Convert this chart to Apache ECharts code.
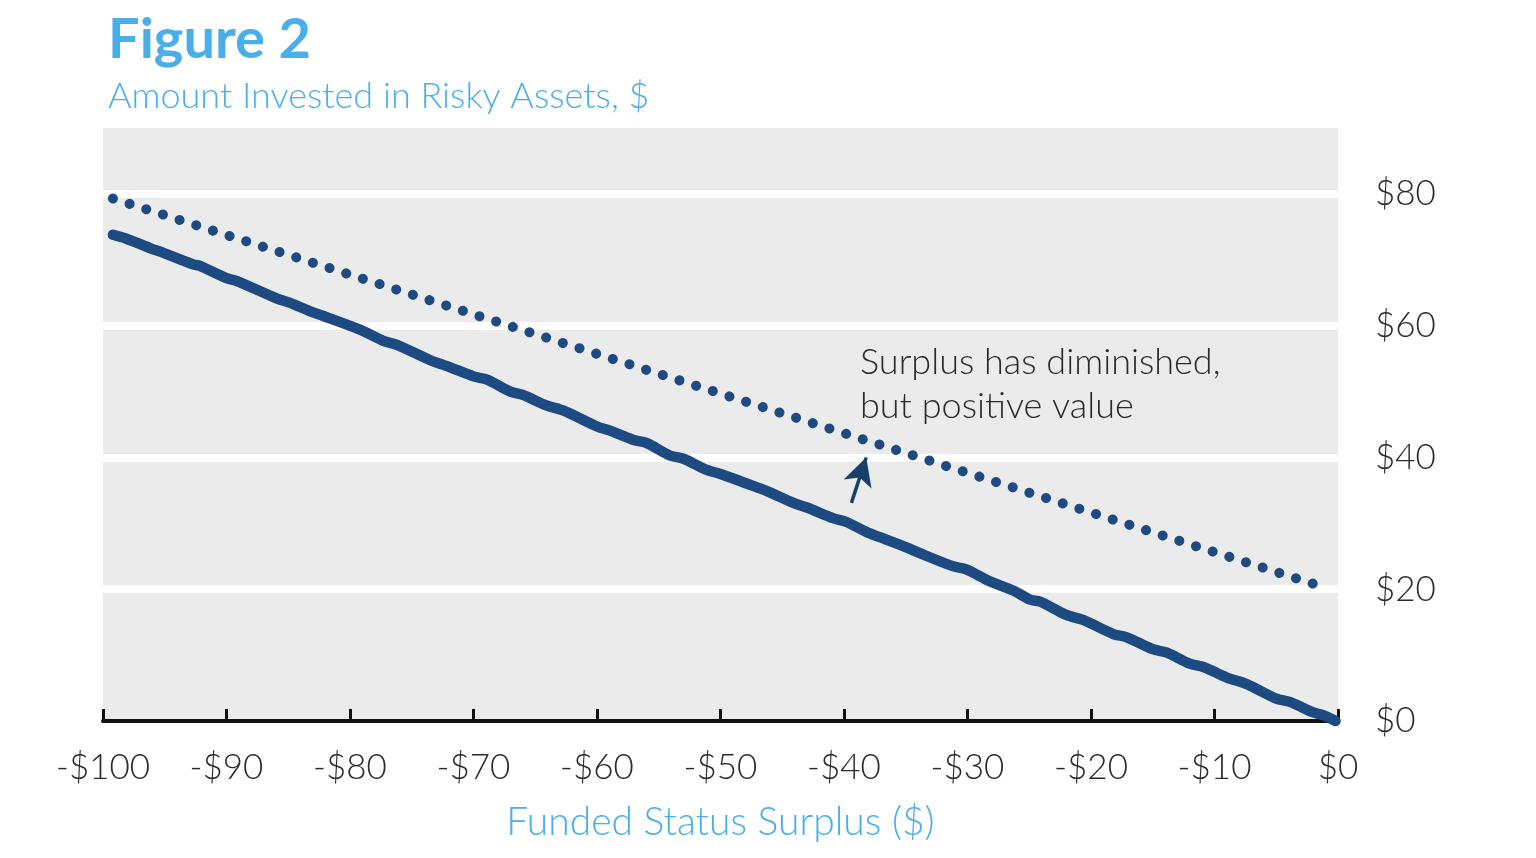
<!DOCTYPE html>
<html><head><meta charset="utf-8">
<script src="https://cdn.jsdelivr.net/npm/echarts@6/dist/echarts.min.js"></script>
<style>html,body{margin:0;padding:0;background:#fff}#c{width:1536px;height:858px}</style>
</head><body><div id="c"></div>
<script>
// Data
const xTicks = [-100, -90, -80, -70, -60, -50, -40, -30, -20, -10, 0];
const yTicks = [0, 20, 40, 60, 80];
const solidX = [-99.2,-98.1,-96.1,-95.3,-92.7,-92.2,-90.0,-89.2,-85.9,-84.9,-83.0,-82.2,-79.2,-77.3,-76.2,-73.3,-72.2,-70.0,-68.9,-67.0,-66.0,-64.1,-62.7,-60.0,-59.0,-57.1,-56.0,-54.1,-53.0,-51.1,-50.0,-46.8,-46.0,-44.1,-43.0,-40.9,-39.8,-38.2,-37.1,-34.9,-33.9,-31.2,-30.1,-28.2,-26.3,-24.9,-24.1,-22.0,-20.6,-18.2,-17.1,-15.0,-13.9,-12.0,-10.9,-9.0,-7.4,-5.0,-3.9,-2.0,-1.2,-0.2];
const solidY = [73.8,73.2,71.7,71.2,69.3,69.1,67.2,66.8,64.1,63.5,62.0,61.5,59.4,57.7,57.1,54.6,53.9,52.3,51.8,50.0,49.5,47.9,47.1,44.7,44.1,42.7,42.2,40.3,39.8,38.1,37.5,35.3,34.7,33.1,32.4,30.8,30.2,28.7,27.9,26.3,25.5,23.5,23.0,21.2,19.8,18.4,18.1,16.1,15.3,13.2,12.7,10.9,10.4,8.7,8.2,6.6,5.6,3.4,2.9,1.3,0.9,0.0];
const dottedX = [-99.2, -0.8];
const dottedY = [79.3, 20.1];
const arrowFrom = [-39.4, 33.1];
const arrowTo = [-38.2, 40.0];
const annotation = ['Surplus has diminished,', 'but positive value'];

const zip = (xs, ys) => xs.map((x, i) => [x, ys[i]]);
const fmtX = v => (v < 0 ? '-$' + (-v) : '$' + v);
const FONT = 'Lato';
const BLUE = '#4aaee8';
const NAVY = '#1c4a81';

const chart = echarts.init(document.getElementById('c'), null, {renderer: 'canvas'});
chart.setOption({
  animation: false,
  backgroundColor: '#ffffff',
  title: [
    {text: 'Figure 2', left: 103, top: 7, textStyle: {fontFamily: FONT, fontSize: 56, fontWeight: 'bold', color: BLUE}},
    {text: 'Amount Invested in Risky Assets, $', left: 103, top: 73, textStyle: {fontFamily: FONT, fontSize: 36, fontWeight: 300, color: BLUE}}
  ],
  grid: {left: 103, right: 198, top: 128, bottom: 137, show: true, backgroundColor: '#ebebeb', borderWidth: 0},
  xAxis: {
    type: 'value', min: xTicks[0], max: xTicks[xTicks.length - 1], interval: 10,
    name: 'Funded Status Surplus ($)', nameLocation: 'middle', nameGap: 82,
    nameTextStyle: {fontFamily: FONT, fontSize: 39, fontWeight: 300, color: BLUE},
    axisLine: {show: true, onZero: false, lineStyle: {color: '#111', width: 4}},
    axisTick: {show: true, inside: true, length: 12, lineStyle: {color: '#111', width: 3}},
    axisLabel: {formatter: fmtX, margin: 29, fontFamily: FONT, fontSize: 35, fontWeight: 300, color: '#2a2a2a'},
    splitLine: {show: false}
  },
  yAxis: {
    type: 'value', position: 'right', min: yTicks[0], max: 90, interval: 20,
    axisLine: {show: false}, axisTick: {show: false},
    axisLabel: {formatter: v => '$' + v, showMaxLabel: false, margin: 37, fontFamily: FONT, fontSize: 35, fontWeight: 300, color: '#2a2a2a'},
    splitLine: {show: false}
  },
  series: [
    {
      type: 'line', data: [], z: 1, silent: true,
      markLine: {
        silent: true, z: 1, symbol: 'none', label: {show: false},
        lineStyle: {color: '#ffffff', width: 8, type: 'solid'},
        data: yTicks.filter(v => v > 0).map(v => ({yAxis: v}))
      }
    },
    {
      type: 'line', data: zip(dottedX, dottedY), showSymbol: false, symbol: 'none',
      lineStyle: {color: NAVY, width: 10, type: [0.1, 17.4], cap: 'round'}, z: 3
    },
    {
      type: 'line', data: zip(solidX, solidY), showSymbol: false, symbol: 'none', smooth: 0.3,
      lineStyle: {color: NAVY, width: 10.5, cap: 'round', join: 'round'}, z: 4,
      markLine: {
        silent: true, z: 5, symbol: ['none', 'arrow'], symbolSize: [22, 28],
        lineStyle: {color: '#163f6c', width: 3.5, type: 'solid'},
        label: {show: false},
        data: [[{coord: arrowFrom}, {coord: arrowTo}]]
      }
    }
  ],
  graphic: [{
    type: 'text', left: 860, top: 340, z: 10,
    style: {text: annotation.join('\n'), fontFamily: FONT, fontSize: 36, fontWeight: 300, lineHeight: 44, fill: '#2a2a2a'}
  }]
});
</script></body></html>
